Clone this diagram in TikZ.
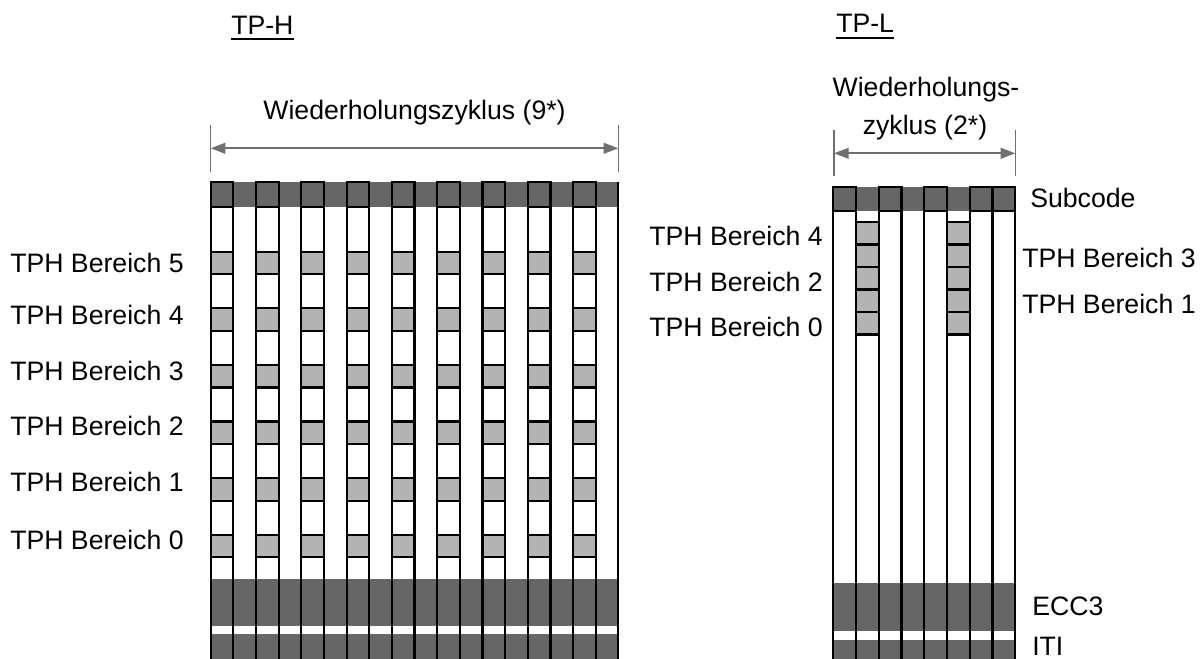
\documentclass[tikz,border=0pt]{standalone}
\usepackage{fontspec}
\setmainfont{Liberation Sans}
\usetikzlibrary{arrows.meta}
\definecolor{banddark}{RGB}{102,102,102}
\definecolor{cellgray}{RGB}{179,179,179}
\definecolor{dimgray}{RGB}{112,112,112}
\begin{document}
\begin{tikzpicture}[x=0.75pt,y=-0.75pt,
  lbl/.style={inner sep=0pt,font=\fontsize{20}{24}\selectfont},
  trackline/.style={line width=1.6pt,black},
  cellbox/.style={line width=1.6pt,draw=black},
  graycell/.style={cellbox,fill=cellgray},
  dimline/.style={draw=dimgray,line width=1.5pt,{Triangle[length=11pt,width=8pt]}-{Triangle[length=11pt,width=8pt]}},
  dimtick/.style={draw=dimgray,line width=1.1pt}]
\useasboundingbox (0,0) rectangle (1200,659);
\fill[white] (0,0) rectangle (1200,659);

% ---------- TP-H: 18 tracks ----------
\def\hx{210.7}\def\hp{22.65}\def\hr{618.4}
\fill[banddark] (\hx,182) rectangle (\hr,207);
\fill[banddark] (\hx,579) rectangle (\hr,626);
\fill[banddark] (\hx,634) rectangle (\hr,659);
\foreach \k in {0,...,8}{
  \pgfmathsetmacro\xl{\hx+2*\k*\hp}
  \pgfmathsetmacro\xr{\xl+\hp}
  \draw[cellbox] (\xl,182) rectangle (\xr,207);
  \foreach \j in {0,...,5}{
    \pgfmathsetmacro\yc{263+56.6*\j}
    \filldraw[graycell] (\xl,\yc-11.25) rectangle (\xr,\yc+11.25);
  }
}
\foreach \i in {0,...,18}{
  \draw[trackline] (\hx+\i*\hp,182) -- (\hx+\i*\hp,659);
}

% ---------- TP-L: 8 tracks ----------
\def\lx{833.3}\def\lp{22.75}\def\lr{1015.3}
\fill[banddark] (\lx,187) rectangle (\lr,211);
\fill[banddark] (\lx,583) rectangle (\lr,631);
\fill[banddark] (\lx,640) rectangle (\lr,659);
\foreach \k in {0,2,4,6,7}{
  \draw[cellbox] (\lx+\k*\lp,187) rectangle (\lx+\k*\lp+\lp,211);
}
\foreach \k in {1,5}{
  \foreach \j in {0,...,4}{
    \filldraw[graycell] (\lx+\k*\lp,222+22.5*\j) rectangle (\lx+\k*\lp+\lp,244.5+22.5*\j);
  }
}
\foreach \i in {0,...,8}{
  \draw[trackline] (\lx+\i*\lp,187) -- (\lx+\i*\lp,659);
}

% ---------- headings ----------
\node[lbl,anchor=base west] (tph) at (231,35) {TP-H};
\draw[line width=1.5pt] ([yshift=-3pt]tph.base west) -- ([yshift=-3pt]tph.base east);
\node[lbl,anchor=base west] (tpl) at (836,33) {TP-L};
\draw[line width=1.5pt] ([yshift=-4pt]tpl.base west) -- ([yshift=-4pt]tpl.base east);

% ---------- repetition cycle dimensions ----------
\coordinate (ha) at (210.7,148.3);
\coordinate (hb) at (618.3,148.3);
\draw[dimtick] (210.7,125) -- (210.7,172);
\draw[dimtick] (618.3,125) -- (618.3,172);
\draw[dimline] (ha) -- (hb);
\node[lbl,anchor=base] (hcyc) at (414.5,120) {Wiederholungszyklus (9*)};

\coordinate (la) at (834,153.3);
\coordinate (lb) at (1015.3,153.3);
\draw[dimtick] (834,130) -- (834,176);
\draw[dimtick] (1015.3,130) -- (1015.3,176);
\draw[dimline] (la) -- (lb);
\node[lbl,anchor=base] (lcyc1) at (926,97) {Wiederholungs-};
\node[lbl,anchor=base] (lcyc2) at (925,135) {zyklus (2*)};

% ---------- TP-H area labels ----------
\node[lbl,anchor=west] (h5) at (10,263) {TPH Bereich 5};
\node[lbl,anchor=west] (h4) at (10,315) {TPH Bereich 4};
\node[lbl,anchor=west] (h3) at (10,371) {TPH Bereich 3};
\node[lbl,anchor=west] (h2) at (10,426) {TPH Bereich 2};
\node[lbl,anchor=west] (h1) at (10,482) {TPH Bereich 1};
\node[lbl,anchor=west] (h0) at (10,540) {TPH Bereich 0};

% ---------- TP-L area labels ----------
\node[lbl,anchor=east] (l4) at (823,236) {TPH Bereich 4};
\node[lbl,anchor=east] (l2) at (823,282) {TPH Bereich 2};
\node[lbl,anchor=east] (l0) at (823,327) {TPH Bereich 0};
\node[lbl,anchor=west] (l3) at (1022,258) {TPH Bereich 3};
\node[lbl,anchor=west] (l1) at (1022,304) {TPH Bereich 1};
\node[lbl,anchor=west] (sub) at (1030,198) {Subcode};
\node[lbl,anchor=west] (ecc) at (1032,606) {ECC3};
\node[lbl,anchor=west] (iti) at (1032,646) {ITI};
\end{tikzpicture}
\end{document}
